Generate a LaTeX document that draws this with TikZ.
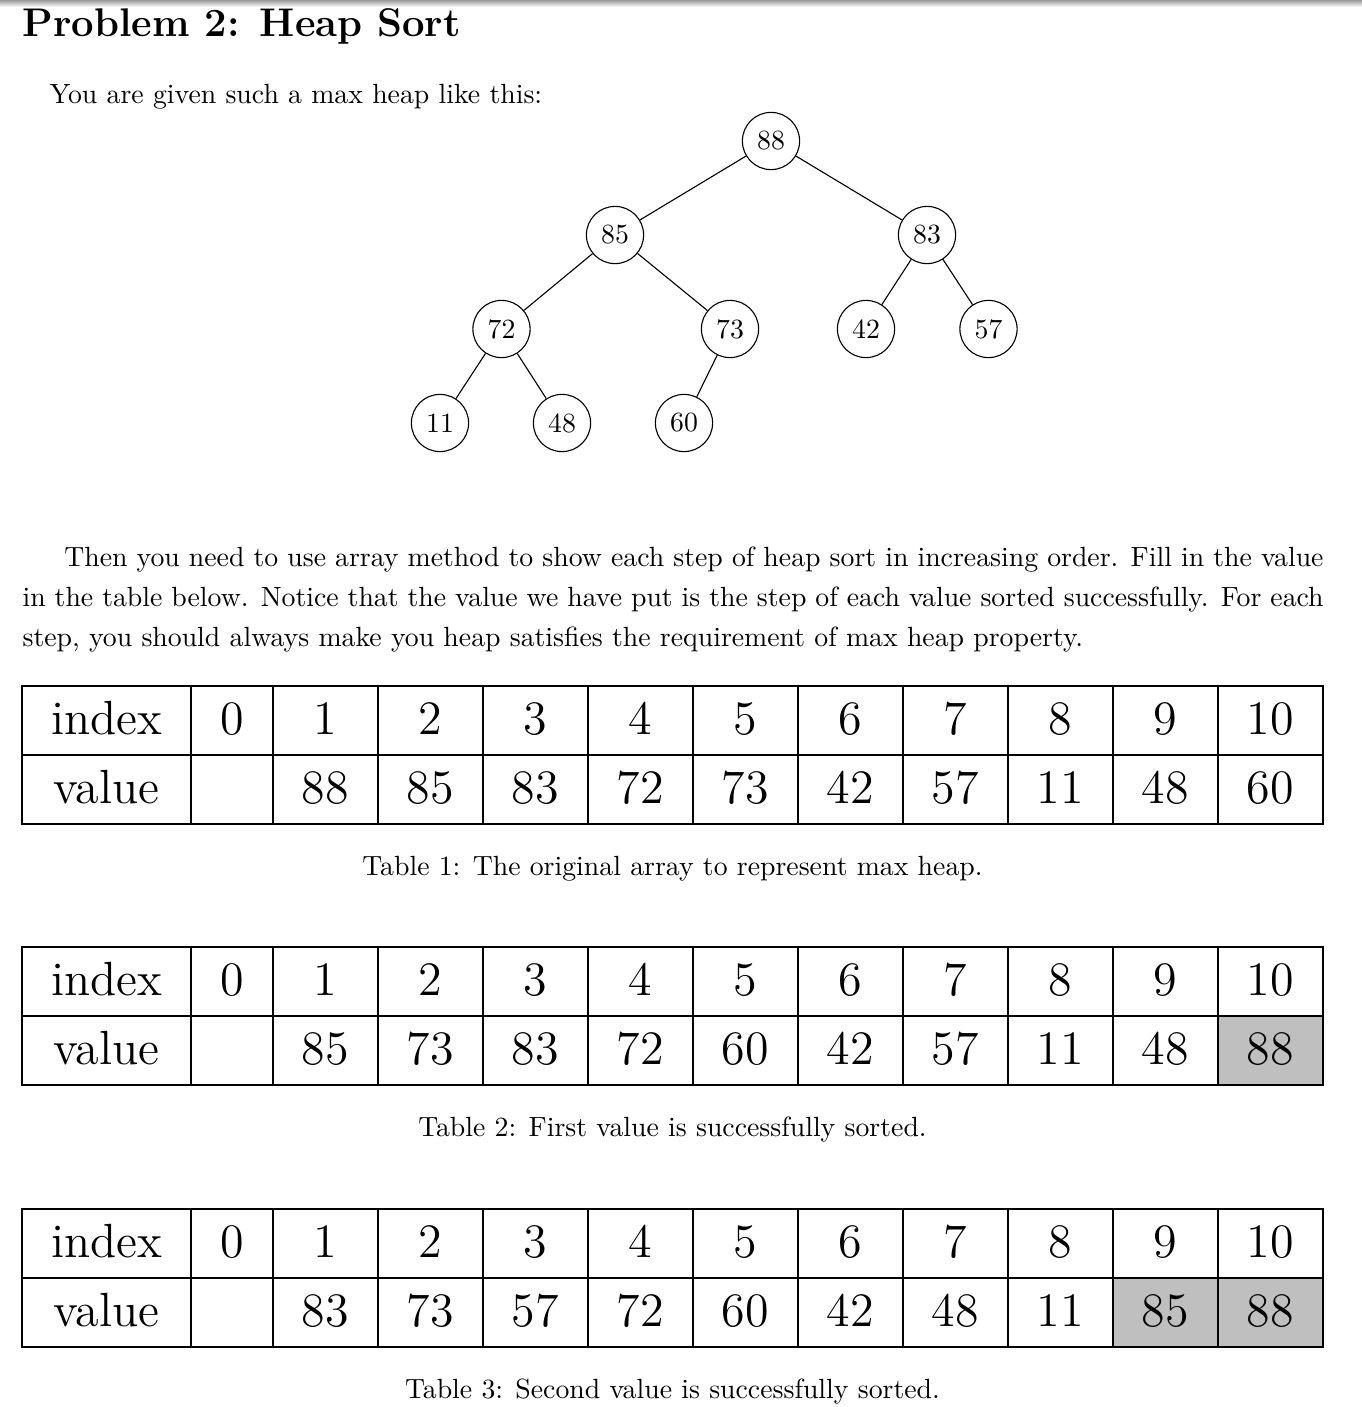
\documentclass[tikz,border=0pt]{standalone}
\usepackage{fontspec}
\newfontfamily\tabfont{lmroman12-regular}[Extension=.otf]
\begin{document}
\begin{tikzpicture}[x=0.36pt,y=-0.36pt,
  hnode/.style={draw,circle,minimum size=20.6pt,inner sep=0pt,line width=0.4pt},
  cellbox/.style={draw,line width=0.45pt,minimum height=24.84pt,minimum width=37.8pt,
    inner sep=0pt,outer sep=0pt,font=\tabfont\LARGE,text height=11.5pt,text depth=1.78pt},
  txt/.style={anchor=base west,inner sep=0pt},
  captxt/.style={anchor=base,inner sep=0pt}]
\useasboundingbox (0,0) rectangle (1362,1407);
\fill[white] (0,0) rectangle (1362,1407);
\shade[top color=black!40,bottom color=white] (0,0) rectangle (1362,7);

% title and text
\node[txt,font=\Large\bfseries] (title) at (22,36) {Problem 2: Heap Sort};
\node[txt] (intro) at (49,103) {You are given such a max heap like this:};

% heap tree
\node[hnode] (n88) at (771,141) {88};
\node[hnode] (n85) at (615,235) {85};
\node[hnode] (n83) at (927,235) {83};
\node[hnode] (n72) at (501.5,329) {72};
\node[hnode] (n73) at (730,329) {73};
\node[hnode] (n42) at (866,329) {42};
\node[hnode] (n57) at (988.5,329) {57};
\node[hnode] (n11) at (440,423) {11};
\node[hnode] (n48) at (562,423) {48};
\node[hnode] (n60) at (684,423) {60};
\draw (n88) -- (n85);
\draw (n88) -- (n83);
\draw (n85) -- (n72);
\draw (n85) -- (n73);
\draw (n83) -- (n42);
\draw (n83) -- (n57);
\draw (n72) -- (n11);
\draw (n72) -- (n48);
\draw (n73) -- (n60);

% paragraph
\node[txt] (p1) at (63.7,566.5) {\makebox[453.35pt][s]{Then you need to use array method to show each step of heap sort in increasing order. Fill in the value}};
\node[txt] (p2) at (22,606.5) {\makebox[468.4pt][s]{in the table below. Notice that the value we have put is the step of each value sorted successfully. For each}};
\node[txt] (p3) at (22,646) {step, you should always make you heap satisfies the requirement of max heap property.};

% tables
\newcommand\drawheaptable[4]{%
  \node[cellbox,minimum width=60.84pt,anchor=north west] (#1i) at (22,#2) {index};
  \node[cellbox,minimum width=60.84pt,anchor=north west] (#1v) at (22,#2+69) {value};
  \node[cellbox,minimum width=29.52pt,anchor=north west] (#1i0) at (191,#2) {0};
  \node[cellbox,minimum width=29.52pt,anchor=north west] (#1v0) at (191,#2+69) {};
  \foreach \val [count=\j] in {#3} {
    \pgfmathsetmacro\xl{273+105*(\j-1)}
    \node[cellbox,anchor=north west] (#1i\j) at (\xl,#2) {\j};
    \ifnum\j<#4\relax
      \node[cellbox,anchor=north west] (#1v\j) at (\xl,#2+69) {\val};
    \else
      \node[cellbox,anchor=north west,fill=gray!50] (#1v\j) at (\xl,#2+69) {\val};
    \fi
  }%
}
\drawheaptable{ta}{686}{88,85,83,72,73,42,57,11,48,60}{11}
\drawheaptable{tb}{947}{85,73,83,72,60,42,57,11,48,88}{10}
\drawheaptable{tc}{1209}{83,73,57,72,60,42,48,11,85,88}{9}

\node[captxt] (c1) at (672.5,875) {Table 1: The original array to represent max heap.};
\node[captxt] (c2) at (672.5,1136) {Table 2: First value is successfully sorted.};
\node[captxt] (c3) at (672.5,1398) {Table 3: Second value is successfully sorted.};
\end{tikzpicture}
\end{document}
